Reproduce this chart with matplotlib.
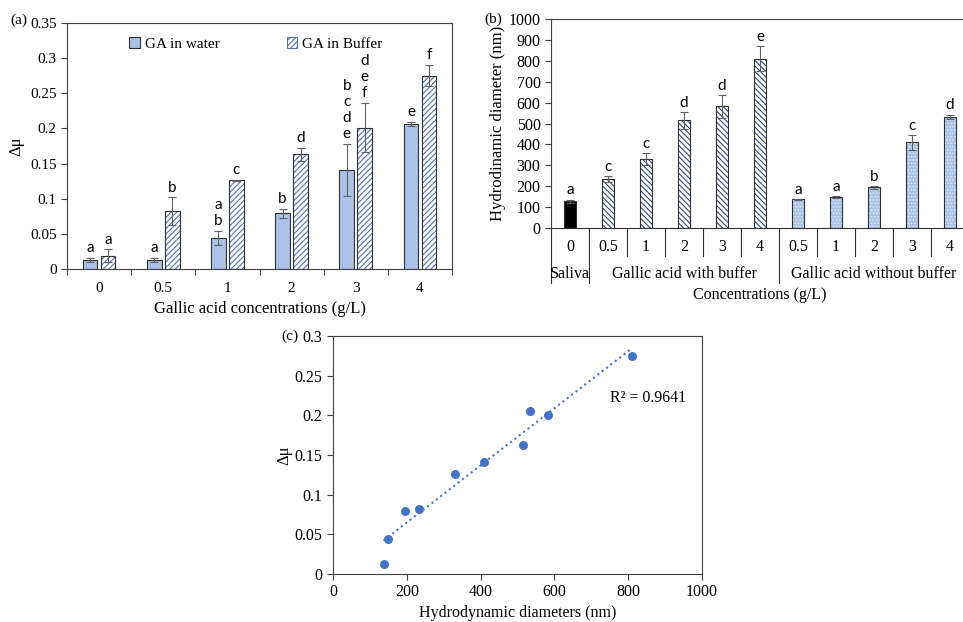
import numpy as np
import matplotlib
matplotlib.use("Agg")
import matplotlib.pyplot as plt

plt.rcParams['font.family'] = ['Liberation Serif', 'DejaVu Serif']
plt.rcParams['font.size'] = 11
plt.rcParams['hatch.linewidth'] = 0.8
plt.rcParams['axes.edgecolor'] = '#404040'
plt.rcParams['xtick.color'] = '#404040'
plt.rcParams['ytick.color'] = '#404040'
plt.rcParams['xtick.labelcolor'] = 'black'
plt.rcParams['ytick.labelcolor'] = 'black'

# ---------------- data ----------------
conc_a = ['0', '0.5', '1', '2', '3', '4']
water_mu = [0.013, 0.013, 0.044, 0.079, 0.141, 0.206]
water_err = [0.003, 0.003, 0.010, 0.007, 0.037, 0.003]
buffer_mu = [0.019, 0.082, 0.126, 0.163, 0.201, 0.275]
buffer_err = [0.009, 0.020, 0.001, 0.009, 0.035, 0.015]
water_letters = ['a', 'a', 'a\nb', 'b', 'b\nc\nd\ne', 'e']
buffer_letters = ['a', 'b', 'c', 'd', 'd\ne\nf', 'f']

conc_b = ['0', '0.5', '1', '2', '3', '4', '0.5', '1', '2', '3', '4']
diam = [128, 233, 330, 515, 582, 810, 137, 148, 195, 410, 533]
diam_err = [8, 15, 30, 40, 55, 60, 3, 5, 7, 35, 10]
letters_b = ['a', 'c', 'c', 'd', 'd', 'e', 'a', 'a', 'b', 'c', 'd']
groups_b = ['Saliva', 'Gallic acid with buffer', 'Gallic acid without buffer']
group_start = [0, 1, 6]
group_end = [1, 6, 11]

# scatter: diameters vs friction change
sc_x = diam[1:]
sc_y = buffer_mu[1:] + water_mu[1:]

W, H = 963, 622
fig = plt.figure(figsize=(W / 100, H / 100), dpi=100)


def px_axes(x0, y0, x1, y1):
    return fig.add_axes([x0 / W, 1 - y1 / H, (x1 - x0) / W, (y1 - y0) / H])


LETTER_FONT = ['Lato', 'DejaVu Sans']
edge = '#303030'
errc = '#606060'
light_blue = '#a9c2e6'

# ---------------- (a) ----------------
ax = px_axes(67, 23, 452, 269)
x = np.arange(len(conc_a))
bw = 0.23
off = 0.14
ax.bar(x - off, water_mu, bw, color=light_blue, edgecolor=edge, linewidth=0.8,
       label='GA in water')
ax.bar(x + off, buffer_mu, bw, color='white', edgecolor='#4f74b8', hatch='//////',
       linewidth=0)
ax.bar(x + off, buffer_mu, bw, color='none', edgecolor=edge, linewidth=0.8)
ax.errorbar(x - off, water_mu, yerr=water_err, fmt='none', ecolor=errc,
            elinewidth=0.8, capsize=3, capthick=0.8)
ax.errorbar(x + off, buffer_mu, yerr=buffer_err, fmt='none', ecolor=errc,
            elinewidth=0.8, capsize=3, capthick=0.8)
for i in range(len(conc_a)):
    ax.annotate(water_letters[i], (x[i] - off, water_mu[i] + water_err[i]),
                xytext=(0, 2), textcoords='offset points', ha='center', va='bottom',
                family=LETTER_FONT, fontsize=11, linespacing=1.2)
    ax.annotate(buffer_letters[i], (x[i] + off, buffer_mu[i] + buffer_err[i]),
                xytext=(0, 2), textcoords='offset points', ha='center', va='bottom',
                family=LETTER_FONT, fontsize=11, linespacing=1.2)
ax.set_xlim(-0.5, len(conc_a) - 0.5)
ax.set_ylim(0, 0.35)
ax.set_yticks(np.arange(0, 0.351, 0.05))
ax.set_yticklabels(['0', '0.05', '0.1', '0.15', '0.2', '0.25', '0.3', '0.35'])
ax.set_xticks(np.arange(-0.5, len(conc_a), 1.0))
ax.set_xticklabels([])
ax.set_xticks(x, minor=True)
ax.set_xticklabels(conc_a, minor=True)
ax.tick_params(axis='x', which='minor', length=0, pad=9)
ax.tick_params(axis='x', which='major', length=4, direction='out')
ax.tick_params(axis='y', length=4, direction='out')
ax.set_xlabel('Gallic acid concentrations (g/L)', labelpad=5, fontsize=12)
ax.set_ylabel('Δμ', labelpad=4, fontsize=12)
h_water = plt.Rectangle((0, 0), 1, 1, facecolor=light_blue, edgecolor=edge, linewidth=0.8)
h_buf = plt.Rectangle((0, 0), 1, 1, facecolor='white', edgecolor='#4f74b8', hatch='//////',
                      linewidth=0.8)
ax.legend([h_water, h_buf], ['GA in water', 'GA in Buffer'], ncol=2, frameon=False,
          loc='center', bbox_to_anchor=(0.49, 0.915), handlelength=0.7, handleheight=0.7,
          handletextpad=0.3, columnspacing=4.4, fontsize=11)
fig.text(10 / W, 1 - 20 / H, '(a)', ha='left', va='center', fontsize=11)

# ---------------- (b) ----------------
axb = px_axes(551, 19, 969, 228)
xb = np.arange(len(conc_b))
bwb = 0.34
face_b = ['black'] + ['white'] * 5 + [light_blue] * 5
hatch_b = [None] + ['\\\\\\\\\\\\'] * 5 + ['.....'] * 5
hcol_b = ['black'] + ['#2f4a80'] * 5 + ['#dfe8f6'] * 5
for i in range(len(conc_b)):
    axb.bar(xb[i], diam[i], bwb, color=face_b[i], edgecolor=hcol_b[i], hatch=hatch_b[i],
            linewidth=0)
    axb.bar(xb[i], diam[i], bwb, color='none', edgecolor=edge, linewidth=0.8)
    axb.annotate(letters_b[i], (xb[i], diam[i] + diam_err[i]), xytext=(0, 1.5),
                 textcoords='offset points', ha='center', va='bottom',
                 family=LETTER_FONT, fontsize=11)
axb.errorbar(xb, diam, yerr=diam_err, fmt='none', ecolor=errc, elinewidth=0.8,
             capsize=3, capthick=0.8)
axb.set_xlim(-0.5, len(conc_b) - 0.5)
axb.set_ylim(0, 1000)
axb.set_yticks(np.arange(0, 1001, 100))
axb.tick_params(axis='y', length=4, direction='out', labelsize=11.5)
axb.set_xticks([])
axb.spines['right'].set_visible(False)
axb.spines['bottom'].set_visible(False)
axb.axhline(0, color=edge, linewidth=0.8, clip_on=False)
axb.set_ylabel('Hydrodinamic diameter (nm)', labelpad=2, fontsize=12)
trans = axb.get_xaxis_transform()
dy = 1.0 / (228 - 19)  # axes fraction per pixel
for i in range(len(conc_b)):
    axb.text(xb[i], -19 * dy, conc_b[i], transform=trans, ha='center', va='center',
             fontsize=11.5)
for k in range(len(conc_b)):
    b = k - 0.5
    long = k in group_start
    axb.plot([b, b], [0, -(55 if long else 28) * dy], transform=trans, color=edge,
             linewidth=0.8, clip_on=False)
for g, s, e in zip(groups_b, group_start, group_end):
    axb.text((s + e - 1) / 2, -46 * dy, g, transform=trans, ha='center', va='center',
             fontsize=11.5)
axb.text(0.5, -67 * dy, 'Concentrations (g/L)', transform=axb.transAxes, ha='center',
         va='center', fontsize=11.5)
fig.text(484 / W, 1 - 19 / H, '(b)', ha='left', va='center', fontsize=11)

# ---------------- (c) ----------------
axc = px_axes(333, 336, 702, 574)
axc.scatter(sc_x, sc_y, s=30, color='#4472c4', zorder=3)
k, c0 = np.polyfit(sc_x, sc_y, 1)
xl = np.array([min(sc_x), max(sc_x)])
axc.plot(xl, k * xl + c0, linestyle=':', color='#4472c4', linewidth=1.5)
axc.text(853, 0.222, 'R² = 0.9641', ha='center', va='center', fontsize=11.5)
axc.set_xlim(0, 1000)
axc.set_ylim(0, 0.3)
axc.set_xticks(np.arange(0, 1001, 200))
axc.set_yticks(np.arange(0, 0.301, 0.05))
axc.set_yticklabels(['0', '0.05', '0.1', '0.15', '0.2', '0.25', '0.3'])
axc.tick_params(length=4, direction='out', labelsize=11.5)
axc.set_xlabel('Hydrodynamic diameters (nm)', labelpad=3, fontsize=11.5)
axc.set_ylabel('Δμ', labelpad=2, fontsize=12)
fig.text(290 / W, 1 - 336 / H, '(c)', ha='center', va='center', fontsize=11)

fig.savefig('out.png', dpi=100)
